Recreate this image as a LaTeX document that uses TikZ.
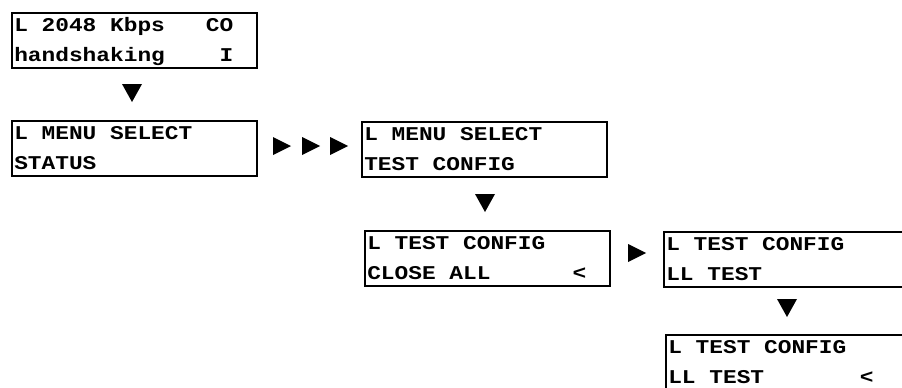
\documentclass[tikz,border=0pt]{standalone}
\usepackage{fontspec}
\newfontfamily\lcdfont{Liberation Mono}[FakeStretch=1.17]
% one character cell of the display
\newcommand\lcdsp{\phantom{X}}
\begin{document}
\begin{tikzpicture}[x=1pt,y=-1pt,
  lcd/.style={draw, line width=1.6pt, anchor=north west, align=left,
    text width=240pt, inner xsep=2.5pt, inner ysep=0pt,
    text height=19pt, text depth=36pt,
    font=\lcdfont\bfseries\fontsize{19.5}{30}\selectfont}]
\useasboundingbox (0,0) rectangle (902,388);

\node[lcd] (1) at (11,12) {L\lcdsp 2048\lcdsp Kbps\lcdsp\lcdsp\lcdsp CO\\
  handshaking\lcdsp\lcdsp\lcdsp\lcdsp I};
\node[lcd] (2) at (11,120) {L\lcdsp MENU\lcdsp SELECT\\STATUS};
\node[lcd] (3) at (361,121) {L\lcdsp MENU\lcdsp SELECT\\TEST\lcdsp CONFIG};
\node[lcd] (4) at (364,230) {L\lcdsp TEST\lcdsp CONFIG\\
  CLOSE\lcdsp ALL\lcdsp\lcdsp\lcdsp\lcdsp\lcdsp\lcdsp <};
\node[lcd] (5) at (663,231) {L\lcdsp TEST\lcdsp CONFIG\\LL\lcdsp TEST};
\node[lcd] (6) at (665,334) {L\lcdsp TEST\lcdsp CONFIG\\
  LL\lcdsp TEST\lcdsp\lcdsp\lcdsp\lcdsp\lcdsp\lcdsp\lcdsp <};

\coordinate (t1) at (132,93);
\coordinate (t2) at (282,146);
\coordinate (t3) at (311,146);
\coordinate (t4) at (339,146);
\coordinate (t5) at (485,203);
\coordinate (t6) at (637,253);
\coordinate (t7) at (787,308);

\path[fill] (t1) ++(-10,-9) -- ++(20,0) -- ++(-10,18) -- cycle;
\path[fill] (t2) ++(-9,-9) -- ++(0,18) -- ++(18,-9) -- cycle;
\path[fill] (t3) ++(-9,-9) -- ++(0,18) -- ++(18,-9) -- cycle;
\path[fill] (t4) ++(-9,-9) -- ++(0,18) -- ++(18,-9) -- cycle;
\path[fill] (t5) ++(-10,-9) -- ++(20,0) -- ++(-10,18) -- cycle;
\path[fill] (t6) ++(-9,-9) -- ++(0,18) -- ++(18,-9) -- cycle;
\path[fill] (t7) ++(-10,-9) -- ++(20,0) -- ++(-10,18) -- cycle;
\end{tikzpicture}
\end{document}
